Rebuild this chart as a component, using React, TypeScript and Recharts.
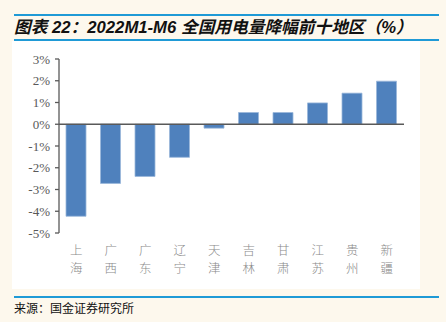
import React from 'react';
import { BarChart, Bar, XAxis, YAxis, ReferenceLine } from 'recharts';

const regions = ['上海', '广西', '广东', '辽宁', '天津', '吉林', '甘肃', '江苏', '贵州', '新疆'];
const growth = [-4.23, -2.72, -2.4, -1.52, -0.18, 0.54, 0.54, 0.98, 1.43, 1.98];
const yTicks = [-5, -4, -3, -2, -1, 0, 1, 2, 3];

const data = regions.map((name, i) => ({ name, value: growth[i] }));

const blue = '#1f9ad6';
const cjk = '"Liberation Serif", "Noto Sans CJK SC", serif';

const RegionTick = ({ x, y, payload }: any) => {
    const chars: string[] = Array.from(payload.value);
    return (
        <text x={x} y={y} textAnchor="middle" fill="#8a8a8a" fontSize={12.5} fontWeight={300} fontFamily={cjk}>
            {chars.map((c, i) => (
                <tspan key={i} x={x} dy={i === 0 ? 14 : 18}>{c}</tspan>
            ))}
        </text>
    );
};

const ValueTick = ({ x, y, payload }: any) => (
    <text x={x} y={y} dy={4.5} textAnchor="end" fill="#595959" fontSize={13} fontFamily='"Liberation Serif", serif'>
        {`${payload.value}%`}
    </text>
);

export default function App() {
    return (
        <div style={{ position: 'fixed', left: 0, top: 0, width: 446, height: 322, background: '#fdf8ed', overflow: 'hidden' }}>
            {/* Title band */}
            <div style={{ position: 'absolute', left: 14, top: 14, width: 425, height: 2, background: blue }} />
            <div
                style={{
                    position: 'absolute', left: 14, top: 17, height: 22, lineHeight: '22px',
                    fontFamily: '"Liberation Sans", "Noto Sans CJK SC", sans-serif',
                    fontSize: 16.7, fontWeight: 'bold', fontStyle: 'italic', color: '#111', whiteSpace: 'nowrap'
                }}
            >
                图表 22：2022M1-M6 全国用电量降幅前十地区（%）
            </div>
            <div style={{ position: 'absolute', left: 14, top: 39, width: 425, height: 2, background: blue }} />

            {/* Chart */}
            <div style={{ position: 'absolute', left: 12, top: 41, width: 408, height: 248, background: '#ffffff' }}>
                <BarChart
                    width={408}
                    height={248}
                    data={data}
                    margin={{ top: 18, right: 16, left: 0, bottom: 0 }}
                    barSize={20}
                >
                    <XAxis
                        dataKey="name"
                        axisLine={false}
                        tickLine={false}
                        height={56}
                        interval={0}
                        tick={<RegionTick />}
                    />
                    <YAxis
                        width={47}
                        domain={[-5, 3]}
                        ticks={yTicks}
                        interval={0}
                        axisLine={{ stroke: '#595959', strokeWidth: 1.3 }}
                        tickLine={{ stroke: '#595959', strokeWidth: 1.3 }}
                        tickSize={4}
                        tickMargin={5}
                        tick={<ValueTick />}
                    />
                    <Bar dataKey="value" fill="#4f81bd" stroke="#9bb7da" strokeWidth={0.8} isAnimationActive={false} />
                    <ReferenceLine y={0} stroke="#595959" strokeWidth={1.6} />
                </BarChart>
            </div>

            {/* Source */}
            <div style={{ position: 'absolute', left: 14, top: 296, width: 425, height: 2, background: blue }} />
            <div
                style={{
                    position: 'absolute', left: 14, top: 300, lineHeight: '18px',
                    fontFamily: cjk, fontSize: 12, color: '#111', whiteSpace: 'nowrap'
                }}
            >
                来源：国金证券研究所
            </div>
        </div>
    );
}
